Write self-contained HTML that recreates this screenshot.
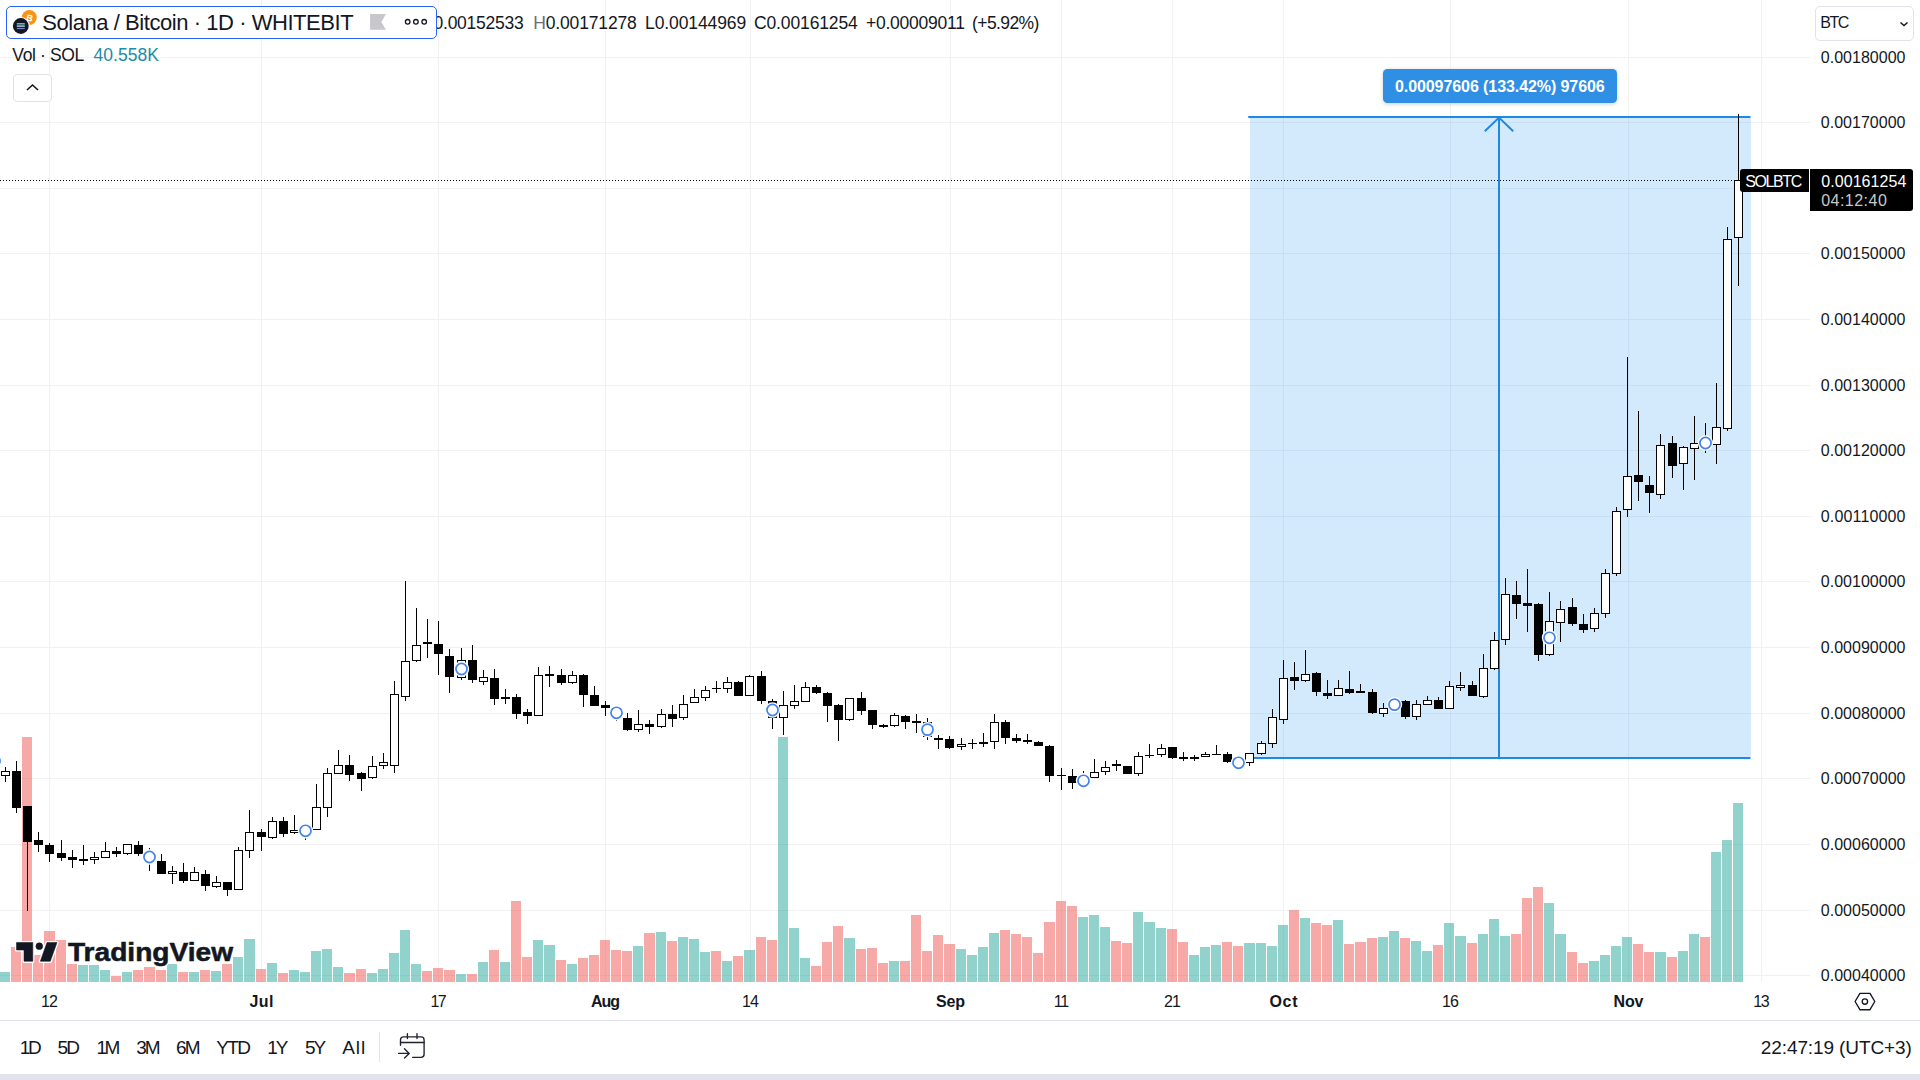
<!DOCTYPE html>
<html><head><meta charset="utf-8"><title>SOLBTC</title>
<style>
html,body{margin:0;padding:0;background:#fff;}
body{width:1920px;height:1080px;overflow:hidden;position:relative;font-family:"Liberation Sans",sans-serif;color:#131722;}
.abs{position:absolute;white-space:nowrap;}
#chart{position:absolute;left:0;top:0;width:1920px;height:982px;}
.pl{position:absolute;left:1822px;font-size:16px;line-height:16px;letter-spacing:-0.12px;color:#131722;}
.tl{position:absolute;top:992px;font-size:16px;line-height:18px;transform:translateX(-50%);color:#131722;}
.tl.b{font-weight:bold;}
.rb{position:absolute;top:1036px;font-size:18.5px;line-height:22px;color:#131722;}
</style></head><body>
<svg id="chart" width="1920" height="982" viewBox="0 0 1920 982" shape-rendering="crispEdges">
<g>
<rect x="49" y="0" width="1" height="982" fill="#f1f1f3"/>
<rect x="261" y="0" width="1" height="982" fill="#f1f1f3"/>
<rect x="438" y="0" width="1" height="982" fill="#f1f1f3"/>
<rect x="605" y="0" width="1" height="982" fill="#f1f1f3"/>
<rect x="750" y="0" width="1" height="982" fill="#f1f1f3"/>
<rect x="950" y="0" width="1" height="982" fill="#f1f1f3"/>
<rect x="1061" y="0" width="1" height="982" fill="#f1f1f3"/>
<rect x="1172" y="0" width="1" height="982" fill="#f1f1f3"/>
<rect x="1283" y="0" width="1" height="982" fill="#f1f1f3"/>
<rect x="1450" y="0" width="1" height="982" fill="#f1f1f3"/>
<rect x="1628" y="0" width="1" height="982" fill="#f1f1f3"/>
<rect x="1761" y="0" width="1" height="982" fill="#f1f1f3"/>
<rect x="0" y="57" width="1810" height="1" fill="#f1f1f3"/>
<rect x="0" y="122" width="1810" height="1" fill="#f1f1f3"/>
<rect x="0" y="188" width="1810" height="1" fill="#f1f1f3"/>
<rect x="0" y="253" width="1810" height="1" fill="#f1f1f3"/>
<rect x="0" y="319" width="1810" height="1" fill="#f1f1f3"/>
<rect x="0" y="385" width="1810" height="1" fill="#f1f1f3"/>
<rect x="0" y="450" width="1810" height="1" fill="#f1f1f3"/>
<rect x="0" y="516" width="1810" height="1" fill="#f1f1f3"/>
<rect x="0" y="581" width="1810" height="1" fill="#f1f1f3"/>
<rect x="0" y="647" width="1810" height="1" fill="#f1f1f3"/>
<rect x="0" y="713" width="1810" height="1" fill="#f1f1f3"/>
<rect x="0" y="778" width="1810" height="1" fill="#f1f1f3"/>
<rect x="0" y="844" width="1810" height="1" fill="#f1f1f3"/>
<rect x="0" y="910" width="1810" height="1" fill="#f1f1f3"/>
<rect x="0" y="975" width="1810" height="1" fill="#f1f1f3"/>
<rect x="0" y="972" width="10" height="10" fill="#26a69a" fill-opacity="0.5"/>
<rect x="11" y="947" width="10" height="35" fill="#ef5350" fill-opacity="0.5"/>
<rect x="22" y="737" width="10" height="245" fill="#ef5350" fill-opacity="0.5"/>
<rect x="33" y="955" width="10" height="27" fill="#ef5350" fill-opacity="0.5"/>
<rect x="44" y="931" width="11" height="51" fill="#ef5350" fill-opacity="0.5"/>
<rect x="56" y="940" width="10" height="42" fill="#ef5350" fill-opacity="0.5"/>
<rect x="67" y="964" width="10" height="18" fill="#ef5350" fill-opacity="0.5"/>
<rect x="78" y="965" width="10" height="17" fill="#26a69a" fill-opacity="0.5"/>
<rect x="89" y="965" width="10" height="17" fill="#26a69a" fill-opacity="0.5"/>
<rect x="100" y="970" width="10" height="12" fill="#26a69a" fill-opacity="0.5"/>
<rect x="111" y="976" width="10" height="6" fill="#ef5350" fill-opacity="0.5"/>
<rect x="122" y="972" width="10" height="10" fill="#26a69a" fill-opacity="0.5"/>
<rect x="133" y="970" width="10" height="12" fill="#ef5350" fill-opacity="0.5"/>
<rect x="144" y="967" width="11" height="15" fill="#ef5350" fill-opacity="0.5"/>
<rect x="156" y="970" width="10" height="12" fill="#ef5350" fill-opacity="0.5"/>
<rect x="167" y="964" width="10" height="18" fill="#26a69a" fill-opacity="0.5"/>
<rect x="178" y="972" width="10" height="10" fill="#ef5350" fill-opacity="0.5"/>
<rect x="189" y="972" width="10" height="10" fill="#26a69a" fill-opacity="0.5"/>
<rect x="200" y="970" width="10" height="12" fill="#ef5350" fill-opacity="0.5"/>
<rect x="211" y="971" width="10" height="11" fill="#26a69a" fill-opacity="0.5"/>
<rect x="222" y="964" width="10" height="18" fill="#ef5350" fill-opacity="0.5"/>
<rect x="233" y="957" width="10" height="25" fill="#26a69a" fill-opacity="0.5"/>
<rect x="244" y="939" width="11" height="43" fill="#26a69a" fill-opacity="0.5"/>
<rect x="256" y="969" width="10" height="13" fill="#ef5350" fill-opacity="0.5"/>
<rect x="267" y="963" width="10" height="19" fill="#26a69a" fill-opacity="0.5"/>
<rect x="278" y="973" width="10" height="9" fill="#ef5350" fill-opacity="0.5"/>
<rect x="289" y="970" width="10" height="12" fill="#26a69a" fill-opacity="0.5"/>
<rect x="300" y="972" width="10" height="10" fill="#26a69a" fill-opacity="0.5"/>
<rect x="311" y="951" width="10" height="31" fill="#26a69a" fill-opacity="0.5"/>
<rect x="322" y="949" width="10" height="33" fill="#26a69a" fill-opacity="0.5"/>
<rect x="333" y="967" width="10" height="15" fill="#26a69a" fill-opacity="0.5"/>
<rect x="344" y="973" width="11" height="9" fill="#ef5350" fill-opacity="0.5"/>
<rect x="356" y="969" width="10" height="13" fill="#ef5350" fill-opacity="0.5"/>
<rect x="367" y="973" width="10" height="9" fill="#26a69a" fill-opacity="0.5"/>
<rect x="378" y="969" width="10" height="13" fill="#26a69a" fill-opacity="0.5"/>
<rect x="389" y="953" width="10" height="29" fill="#26a69a" fill-opacity="0.5"/>
<rect x="400" y="930" width="10" height="52" fill="#26a69a" fill-opacity="0.5"/>
<rect x="411" y="964" width="10" height="18" fill="#26a69a" fill-opacity="0.5"/>
<rect x="422" y="971" width="10" height="11" fill="#ef5350" fill-opacity="0.5"/>
<rect x="433" y="968" width="10" height="14" fill="#ef5350" fill-opacity="0.5"/>
<rect x="444" y="970" width="11" height="12" fill="#ef5350" fill-opacity="0.5"/>
<rect x="456" y="974" width="10" height="8" fill="#26a69a" fill-opacity="0.5"/>
<rect x="467" y="974" width="10" height="8" fill="#ef5350" fill-opacity="0.5"/>
<rect x="478" y="962" width="10" height="20" fill="#26a69a" fill-opacity="0.5"/>
<rect x="489" y="950" width="10" height="32" fill="#ef5350" fill-opacity="0.5"/>
<rect x="500" y="962" width="10" height="20" fill="#26a69a" fill-opacity="0.5"/>
<rect x="511" y="901" width="10" height="81" fill="#ef5350" fill-opacity="0.5"/>
<rect x="522" y="957" width="10" height="25" fill="#ef5350" fill-opacity="0.5"/>
<rect x="533" y="940" width="10" height="42" fill="#26a69a" fill-opacity="0.5"/>
<rect x="544" y="945" width="11" height="37" fill="#26a69a" fill-opacity="0.5"/>
<rect x="556" y="960" width="10" height="22" fill="#ef5350" fill-opacity="0.5"/>
<rect x="567" y="964" width="10" height="18" fill="#26a69a" fill-opacity="0.5"/>
<rect x="578" y="958" width="10" height="24" fill="#ef5350" fill-opacity="0.5"/>
<rect x="589" y="955" width="10" height="27" fill="#ef5350" fill-opacity="0.5"/>
<rect x="600" y="940" width="10" height="42" fill="#ef5350" fill-opacity="0.5"/>
<rect x="611" y="950" width="10" height="32" fill="#ef5350" fill-opacity="0.5"/>
<rect x="622" y="951" width="10" height="31" fill="#ef5350" fill-opacity="0.5"/>
<rect x="633" y="946" width="10" height="36" fill="#26a69a" fill-opacity="0.5"/>
<rect x="644" y="933" width="11" height="49" fill="#ef5350" fill-opacity="0.5"/>
<rect x="656" y="932" width="10" height="50" fill="#26a69a" fill-opacity="0.5"/>
<rect x="667" y="941" width="10" height="41" fill="#ef5350" fill-opacity="0.5"/>
<rect x="678" y="937" width="10" height="45" fill="#26a69a" fill-opacity="0.5"/>
<rect x="689" y="939" width="10" height="43" fill="#26a69a" fill-opacity="0.5"/>
<rect x="700" y="952" width="10" height="30" fill="#26a69a" fill-opacity="0.5"/>
<rect x="711" y="951" width="10" height="31" fill="#ef5350" fill-opacity="0.5"/>
<rect x="722" y="961" width="10" height="21" fill="#26a69a" fill-opacity="0.5"/>
<rect x="733" y="956" width="10" height="26" fill="#ef5350" fill-opacity="0.5"/>
<rect x="744" y="950" width="11" height="32" fill="#26a69a" fill-opacity="0.5"/>
<rect x="756" y="937" width="10" height="45" fill="#ef5350" fill-opacity="0.5"/>
<rect x="767" y="940" width="10" height="42" fill="#ef5350" fill-opacity="0.5"/>
<rect x="778" y="737" width="10" height="245" fill="#26a69a" fill-opacity="0.5"/>
<rect x="789" y="928" width="10" height="54" fill="#26a69a" fill-opacity="0.5"/>
<rect x="800" y="958" width="10" height="24" fill="#26a69a" fill-opacity="0.5"/>
<rect x="811" y="966" width="10" height="16" fill="#ef5350" fill-opacity="0.5"/>
<rect x="822" y="942" width="10" height="40" fill="#ef5350" fill-opacity="0.5"/>
<rect x="833" y="926" width="10" height="56" fill="#ef5350" fill-opacity="0.5"/>
<rect x="844" y="938" width="11" height="44" fill="#26a69a" fill-opacity="0.5"/>
<rect x="856" y="949" width="10" height="33" fill="#ef5350" fill-opacity="0.5"/>
<rect x="867" y="948" width="10" height="34" fill="#ef5350" fill-opacity="0.5"/>
<rect x="878" y="963" width="10" height="19" fill="#ef5350" fill-opacity="0.5"/>
<rect x="889" y="961" width="10" height="21" fill="#26a69a" fill-opacity="0.5"/>
<rect x="900" y="961" width="10" height="21" fill="#ef5350" fill-opacity="0.5"/>
<rect x="911" y="915" width="10" height="67" fill="#ef5350" fill-opacity="0.5"/>
<rect x="922" y="951" width="10" height="31" fill="#ef5350" fill-opacity="0.5"/>
<rect x="933" y="935" width="10" height="47" fill="#ef5350" fill-opacity="0.5"/>
<rect x="944" y="944" width="11" height="38" fill="#ef5350" fill-opacity="0.5"/>
<rect x="956" y="949" width="10" height="33" fill="#26a69a" fill-opacity="0.5"/>
<rect x="967" y="955" width="10" height="27" fill="#26a69a" fill-opacity="0.5"/>
<rect x="978" y="947" width="10" height="35" fill="#26a69a" fill-opacity="0.5"/>
<rect x="989" y="933" width="10" height="49" fill="#26a69a" fill-opacity="0.5"/>
<rect x="1000" y="930" width="10" height="52" fill="#ef5350" fill-opacity="0.5"/>
<rect x="1011" y="934" width="10" height="48" fill="#ef5350" fill-opacity="0.5"/>
<rect x="1022" y="937" width="10" height="45" fill="#ef5350" fill-opacity="0.5"/>
<rect x="1033" y="953" width="10" height="29" fill="#ef5350" fill-opacity="0.5"/>
<rect x="1044" y="922" width="11" height="60" fill="#ef5350" fill-opacity="0.5"/>
<rect x="1056" y="901" width="10" height="81" fill="#ef5350" fill-opacity="0.5"/>
<rect x="1067" y="906" width="10" height="76" fill="#ef5350" fill-opacity="0.5"/>
<rect x="1078" y="917" width="10" height="65" fill="#26a69a" fill-opacity="0.5"/>
<rect x="1089" y="915" width="10" height="67" fill="#26a69a" fill-opacity="0.5"/>
<rect x="1100" y="927" width="10" height="55" fill="#26a69a" fill-opacity="0.5"/>
<rect x="1111" y="941" width="10" height="41" fill="#ef5350" fill-opacity="0.5"/>
<rect x="1122" y="943" width="10" height="39" fill="#ef5350" fill-opacity="0.5"/>
<rect x="1133" y="912" width="10" height="70" fill="#26a69a" fill-opacity="0.5"/>
<rect x="1144" y="922" width="11" height="60" fill="#26a69a" fill-opacity="0.5"/>
<rect x="1156" y="928" width="10" height="54" fill="#26a69a" fill-opacity="0.5"/>
<rect x="1167" y="929" width="10" height="53" fill="#ef5350" fill-opacity="0.5"/>
<rect x="1178" y="942" width="10" height="40" fill="#ef5350" fill-opacity="0.5"/>
<rect x="1189" y="955" width="10" height="27" fill="#26a69a" fill-opacity="0.5"/>
<rect x="1200" y="947" width="10" height="35" fill="#26a69a" fill-opacity="0.5"/>
<rect x="1211" y="945" width="10" height="37" fill="#26a69a" fill-opacity="0.5"/>
<rect x="1222" y="942" width="10" height="40" fill="#ef5350" fill-opacity="0.5"/>
<rect x="1233" y="946" width="10" height="36" fill="#ef5350" fill-opacity="0.5"/>
<rect x="1244" y="943" width="11" height="39" fill="#26a69a" fill-opacity="0.5"/>
<rect x="1256" y="943" width="10" height="39" fill="#26a69a" fill-opacity="0.5"/>
<rect x="1267" y="946" width="10" height="36" fill="#26a69a" fill-opacity="0.5"/>
<rect x="1278" y="925" width="10" height="57" fill="#26a69a" fill-opacity="0.5"/>
<rect x="1289" y="910" width="10" height="72" fill="#ef5350" fill-opacity="0.5"/>
<rect x="1300" y="918" width="10" height="64" fill="#26a69a" fill-opacity="0.5"/>
<rect x="1311" y="923" width="10" height="59" fill="#ef5350" fill-opacity="0.5"/>
<rect x="1322" y="925" width="10" height="57" fill="#ef5350" fill-opacity="0.5"/>
<rect x="1333" y="920" width="10" height="62" fill="#26a69a" fill-opacity="0.5"/>
<rect x="1344" y="944" width="10" height="38" fill="#ef5350" fill-opacity="0.5"/>
<rect x="1355" y="942" width="11" height="40" fill="#ef5350" fill-opacity="0.5"/>
<rect x="1367" y="938" width="10" height="44" fill="#ef5350" fill-opacity="0.5"/>
<rect x="1378" y="937" width="10" height="45" fill="#26a69a" fill-opacity="0.5"/>
<rect x="1389" y="931" width="10" height="51" fill="#26a69a" fill-opacity="0.5"/>
<rect x="1400" y="938" width="10" height="44" fill="#ef5350" fill-opacity="0.5"/>
<rect x="1411" y="941" width="10" height="41" fill="#26a69a" fill-opacity="0.5"/>
<rect x="1422" y="951" width="10" height="31" fill="#26a69a" fill-opacity="0.5"/>
<rect x="1433" y="945" width="10" height="37" fill="#ef5350" fill-opacity="0.5"/>
<rect x="1444" y="923" width="10" height="59" fill="#26a69a" fill-opacity="0.5"/>
<rect x="1455" y="936" width="11" height="46" fill="#26a69a" fill-opacity="0.5"/>
<rect x="1467" y="943" width="10" height="39" fill="#ef5350" fill-opacity="0.5"/>
<rect x="1478" y="934" width="10" height="48" fill="#26a69a" fill-opacity="0.5"/>
<rect x="1489" y="919" width="10" height="63" fill="#26a69a" fill-opacity="0.5"/>
<rect x="1500" y="936" width="10" height="46" fill="#26a69a" fill-opacity="0.5"/>
<rect x="1511" y="934" width="10" height="48" fill="#ef5350" fill-opacity="0.5"/>
<rect x="1522" y="898" width="10" height="84" fill="#ef5350" fill-opacity="0.5"/>
<rect x="1533" y="887" width="10" height="95" fill="#ef5350" fill-opacity="0.5"/>
<rect x="1544" y="903" width="10" height="79" fill="#26a69a" fill-opacity="0.5"/>
<rect x="1555" y="934" width="11" height="48" fill="#26a69a" fill-opacity="0.5"/>
<rect x="1567" y="952" width="10" height="30" fill="#ef5350" fill-opacity="0.5"/>
<rect x="1578" y="963" width="10" height="19" fill="#ef5350" fill-opacity="0.5"/>
<rect x="1589" y="961" width="10" height="21" fill="#26a69a" fill-opacity="0.5"/>
<rect x="1600" y="955" width="10" height="27" fill="#26a69a" fill-opacity="0.5"/>
<rect x="1611" y="946" width="10" height="36" fill="#26a69a" fill-opacity="0.5"/>
<rect x="1622" y="937" width="10" height="45" fill="#26a69a" fill-opacity="0.5"/>
<rect x="1633" y="944" width="10" height="38" fill="#ef5350" fill-opacity="0.5"/>
<rect x="1644" y="952" width="10" height="30" fill="#ef5350" fill-opacity="0.5"/>
<rect x="1655" y="952" width="11" height="30" fill="#26a69a" fill-opacity="0.5"/>
<rect x="1667" y="957" width="10" height="25" fill="#ef5350" fill-opacity="0.5"/>
<rect x="1678" y="951" width="10" height="31" fill="#26a69a" fill-opacity="0.5"/>
<rect x="1689" y="934" width="10" height="48" fill="#26a69a" fill-opacity="0.5"/>
<rect x="1700" y="937" width="10" height="45" fill="#ef5350" fill-opacity="0.5"/>
<rect x="1711" y="852" width="10" height="130" fill="#26a69a" fill-opacity="0.5"/>
<rect x="1722" y="840" width="10" height="142" fill="#26a69a" fill-opacity="0.5"/>
<rect x="1733" y="803" width="10" height="179" fill="#26a69a" fill-opacity="0.5"/>
<rect x="1250" y="117" width="501" height="641" fill="#2196f3" fill-opacity="0.2"/>
<g shape-rendering="geometricPrecision" stroke="#1e88e5" stroke-width="2" stroke-linecap="round" fill="none"><path d="M1249 117 H1749.6 M1249 758 H1749.6"/><path d="M1499 117.5 V757" stroke-linecap="butt"/><path d="M1484.8 131.2 L1499 117.6 L1513.2 131.2" stroke-linecap="butt"/></g>
<line x1="0" y1="180.5" x2="1741" y2="180.5" stroke="#000" stroke-width="1" stroke-dasharray="1 2"/>
<rect x="5" y="767" width="1" height="4" fill="#000"/>
<rect x="5" y="776" width="1" height="6" fill="#000"/>
<rect x="1.5" y="771.5" width="8" height="4" fill="#fff" stroke="#000" stroke-width="1"/>
<rect x="16" y="761" width="1" height="10" fill="#000"/>
<rect x="16" y="808" width="1" height="5" fill="#000"/>
<rect x="12" y="771" width="9" height="37" fill="#000"/>
<rect x="27" y="842" width="1" height="69" fill="#000"/>
<rect x="23" y="806" width="9" height="36" fill="#000"/>
<rect x="38" y="832" width="1" height="8" fill="#000"/>
<rect x="38" y="845" width="1" height="7" fill="#000"/>
<rect x="34" y="840" width="9" height="5" fill="#000"/>
<rect x="49" y="843" width="1" height="2" fill="#000"/>
<rect x="49" y="854" width="1" height="8" fill="#000"/>
<rect x="45" y="845" width="9" height="9" fill="#000"/>
<rect x="61" y="840" width="1" height="13" fill="#000"/>
<rect x="61" y="858" width="1" height="3" fill="#000"/>
<rect x="57" y="853" width="9" height="5" fill="#000"/>
<rect x="72" y="850" width="1" height="7" fill="#000"/>
<rect x="72" y="860" width="1" height="8" fill="#000"/>
<rect x="68" y="857" width="9" height="3" fill="#000"/>
<rect x="83" y="845" width="1" height="14" fill="#000"/>
<rect x="83" y="861" width="1" height="4" fill="#000"/>
<rect x="79" y="859" width="9" height="2" fill="#000"/>
<rect x="94" y="852" width="1" height="5" fill="#000"/>
<rect x="94" y="860" width="1" height="4" fill="#000"/>
<rect x="90.5" y="857.5" width="8" height="2" fill="#fff" stroke="#000" stroke-width="1"/>
<rect x="105" y="842" width="1" height="9" fill="#000"/>
<rect x="101.5" y="851.5" width="8" height="6" fill="#fff" stroke="#000" stroke-width="1"/>
<rect x="116" y="847" width="1" height="4" fill="#000"/>
<rect x="116" y="854" width="1" height="3" fill="#000"/>
<rect x="112" y="851" width="9" height="3" fill="#000"/>
<rect x="127" y="854" width="1" height="1" fill="#000"/>
<rect x="123.5" y="844.5" width="8" height="9" fill="#fff" stroke="#000" stroke-width="1"/>
<rect x="138" y="841" width="1" height="4" fill="#000"/>
<rect x="138" y="854" width="1" height="2" fill="#000"/>
<rect x="134" y="845" width="9" height="9" fill="#000"/>
<rect x="149" y="848" width="1" height="23" fill="#000"/>
<rect x="161" y="854" width="1" height="7" fill="#000"/>
<rect x="157" y="861" width="9" height="13" fill="#000"/>
<rect x="172" y="866" width="1" height="5" fill="#000"/>
<rect x="172" y="874" width="1" height="10" fill="#000"/>
<rect x="168.5" y="871.5" width="8" height="2" fill="#fff" stroke="#000" stroke-width="1"/>
<rect x="183" y="863" width="1" height="9" fill="#000"/>
<rect x="183" y="881" width="1" height="2" fill="#000"/>
<rect x="179" y="872" width="9" height="9" fill="#000"/>
<rect x="194" y="867" width="1" height="5" fill="#000"/>
<rect x="190.5" y="872.5" width="8" height="8" fill="#fff" stroke="#000" stroke-width="1"/>
<rect x="205" y="870" width="1" height="4" fill="#000"/>
<rect x="205" y="886" width="1" height="5" fill="#000"/>
<rect x="201" y="874" width="9" height="12" fill="#000"/>
<rect x="216" y="876" width="1" height="6" fill="#000"/>
<rect x="216" y="887" width="1" height="1" fill="#000"/>
<rect x="212.5" y="882.5" width="8" height="4" fill="#fff" stroke="#000" stroke-width="1"/>
<rect x="227" y="890" width="1" height="6" fill="#000"/>
<rect x="223" y="882" width="9" height="8" fill="#000"/>
<rect x="238" y="847" width="1" height="3" fill="#000"/>
<rect x="234.5" y="850.5" width="8" height="39" fill="#fff" stroke="#000" stroke-width="1"/>
<rect x="249" y="810" width="1" height="22" fill="#000"/>
<rect x="249" y="851" width="1" height="7" fill="#000"/>
<rect x="245.5" y="832.5" width="8" height="18" fill="#fff" stroke="#000" stroke-width="1"/>
<rect x="261" y="829" width="1" height="3" fill="#000"/>
<rect x="261" y="837" width="1" height="14" fill="#000"/>
<rect x="257" y="832" width="9" height="5" fill="#000"/>
<rect x="272" y="817" width="1" height="4" fill="#000"/>
<rect x="272" y="838" width="1" height="1" fill="#000"/>
<rect x="268.5" y="821.5" width="8" height="16" fill="#fff" stroke="#000" stroke-width="1"/>
<rect x="283" y="817" width="1" height="4" fill="#000"/>
<rect x="283" y="834" width="1" height="3" fill="#000"/>
<rect x="279" y="821" width="9" height="13" fill="#000"/>
<rect x="294" y="815" width="1" height="15" fill="#000"/>
<rect x="294" y="833" width="1" height="1" fill="#000"/>
<rect x="290.5" y="830.5" width="8" height="2" fill="#fff" stroke="#000" stroke-width="1"/>
<rect x="305" y="830" width="1" height="10" fill="#000"/>
<rect x="316" y="784" width="1" height="23" fill="#000"/>
<rect x="312.5" y="807.5" width="8" height="22" fill="#fff" stroke="#000" stroke-width="1"/>
<rect x="327" y="768" width="1" height="5" fill="#000"/>
<rect x="327" y="808" width="1" height="9" fill="#000"/>
<rect x="323.5" y="773.5" width="8" height="34" fill="#fff" stroke="#000" stroke-width="1"/>
<rect x="338" y="750" width="1" height="15" fill="#000"/>
<rect x="334.5" y="765.5" width="8" height="8" fill="#fff" stroke="#000" stroke-width="1"/>
<rect x="349" y="755" width="1" height="10" fill="#000"/>
<rect x="349" y="775" width="1" height="6" fill="#000"/>
<rect x="345" y="765" width="9" height="10" fill="#000"/>
<rect x="361" y="772" width="1" height="1" fill="#000"/>
<rect x="361" y="779" width="1" height="12" fill="#000"/>
<rect x="357" y="773" width="9" height="6" fill="#000"/>
<rect x="372" y="756" width="1" height="10" fill="#000"/>
<rect x="372" y="778" width="1" height="1" fill="#000"/>
<rect x="368.5" y="766.5" width="8" height="11" fill="#fff" stroke="#000" stroke-width="1"/>
<rect x="383" y="753" width="1" height="9" fill="#000"/>
<rect x="383" y="766" width="1" height="3" fill="#000"/>
<rect x="379.5" y="762.5" width="8" height="3" fill="#fff" stroke="#000" stroke-width="1"/>
<rect x="394" y="681" width="1" height="13" fill="#000"/>
<rect x="394" y="766" width="1" height="7" fill="#000"/>
<rect x="390.5" y="694.5" width="8" height="71" fill="#fff" stroke="#000" stroke-width="1"/>
<rect x="405" y="581" width="1" height="80" fill="#000"/>
<rect x="405" y="697" width="1" height="4" fill="#000"/>
<rect x="401.5" y="661.5" width="8" height="35" fill="#fff" stroke="#000" stroke-width="1"/>
<rect x="416" y="608" width="1" height="37" fill="#000"/>
<rect x="416" y="661" width="1" height="1" fill="#000"/>
<rect x="412.5" y="645.5" width="8" height="15" fill="#fff" stroke="#000" stroke-width="1"/>
<rect x="427" y="619" width="1" height="23" fill="#000"/>
<rect x="427" y="644" width="1" height="14" fill="#000"/>
<rect x="423" y="642" width="9" height="2" fill="#000"/>
<rect x="438" y="621" width="1" height="23" fill="#000"/>
<rect x="438" y="654" width="1" height="21" fill="#000"/>
<rect x="434" y="644" width="9" height="10" fill="#000"/>
<rect x="449" y="649" width="1" height="7" fill="#000"/>
<rect x="449" y="677" width="1" height="16" fill="#000"/>
<rect x="445" y="656" width="9" height="21" fill="#000"/>
<rect x="461" y="648" width="1" height="12" fill="#000"/>
<rect x="461" y="678" width="1" height="2" fill="#000"/>
<rect x="457.5" y="660.5" width="8" height="17" fill="#fff" stroke="#000" stroke-width="1"/>
<rect x="472" y="645" width="1" height="15" fill="#000"/>
<rect x="472" y="680" width="1" height="3" fill="#000"/>
<rect x="468" y="660" width="9" height="20" fill="#000"/>
<rect x="483" y="670" width="1" height="7" fill="#000"/>
<rect x="483" y="682" width="1" height="3" fill="#000"/>
<rect x="479.5" y="677.5" width="8" height="4" fill="#fff" stroke="#000" stroke-width="1"/>
<rect x="494" y="669" width="1" height="9" fill="#000"/>
<rect x="494" y="699" width="1" height="6" fill="#000"/>
<rect x="490" y="678" width="9" height="21" fill="#000"/>
<rect x="505" y="689" width="1" height="8" fill="#000"/>
<rect x="505" y="699" width="1" height="5" fill="#000"/>
<rect x="501" y="697" width="9" height="2" fill="#000"/>
<rect x="516" y="694" width="1" height="3" fill="#000"/>
<rect x="516" y="714" width="1" height="5" fill="#000"/>
<rect x="512" y="697" width="9" height="17" fill="#000"/>
<rect x="527" y="709" width="1" height="3" fill="#000"/>
<rect x="527" y="716" width="1" height="8" fill="#000"/>
<rect x="523" y="712" width="9" height="4" fill="#000"/>
<rect x="538" y="667" width="1" height="8" fill="#000"/>
<rect x="534.5" y="675.5" width="8" height="40" fill="#fff" stroke="#000" stroke-width="1"/>
<rect x="549" y="666" width="1" height="8" fill="#000"/>
<rect x="549" y="676" width="1" height="11" fill="#000"/>
<rect x="545" y="674" width="9" height="2" fill="#000"/>
<rect x="561" y="669" width="1" height="6" fill="#000"/>
<rect x="561" y="683" width="1" height="2" fill="#000"/>
<rect x="557" y="675" width="9" height="8" fill="#000"/>
<rect x="572" y="671" width="1" height="4" fill="#000"/>
<rect x="572" y="683" width="1" height="1" fill="#000"/>
<rect x="568.5" y="675.5" width="8" height="7" fill="#fff" stroke="#000" stroke-width="1"/>
<rect x="583" y="674" width="1" height="1" fill="#000"/>
<rect x="583" y="695" width="1" height="12" fill="#000"/>
<rect x="579" y="675" width="9" height="20" fill="#000"/>
<rect x="594" y="686" width="1" height="9" fill="#000"/>
<rect x="590" y="695" width="9" height="11" fill="#000"/>
<rect x="605" y="701" width="1" height="4" fill="#000"/>
<rect x="605" y="708" width="1" height="8" fill="#000"/>
<rect x="601" y="705" width="9" height="3" fill="#000"/>
<rect x="616" y="712" width="1" height="9" fill="#000"/>
<rect x="627" y="713" width="1" height="5" fill="#000"/>
<rect x="627" y="730" width="1" height="1" fill="#000"/>
<rect x="623" y="718" width="9" height="12" fill="#000"/>
<rect x="638" y="710" width="1" height="14" fill="#000"/>
<rect x="638" y="730" width="1" height="2" fill="#000"/>
<rect x="634.5" y="724.5" width="8" height="5" fill="#fff" stroke="#000" stroke-width="1"/>
<rect x="649" y="720" width="1" height="4" fill="#000"/>
<rect x="649" y="727" width="1" height="7" fill="#000"/>
<rect x="645" y="724" width="9" height="3" fill="#000"/>
<rect x="661" y="709" width="1" height="5" fill="#000"/>
<rect x="661" y="727" width="1" height="1" fill="#000"/>
<rect x="657.5" y="714.5" width="8" height="12" fill="#fff" stroke="#000" stroke-width="1"/>
<rect x="672" y="705" width="1" height="9" fill="#000"/>
<rect x="672" y="719" width="1" height="8" fill="#000"/>
<rect x="668" y="714" width="9" height="5" fill="#000"/>
<rect x="683" y="695" width="1" height="9" fill="#000"/>
<rect x="683" y="718" width="1" height="2" fill="#000"/>
<rect x="679.5" y="704.5" width="8" height="13" fill="#fff" stroke="#000" stroke-width="1"/>
<rect x="694" y="689" width="1" height="8" fill="#000"/>
<rect x="690.5" y="697.5" width="8" height="5" fill="#fff" stroke="#000" stroke-width="1"/>
<rect x="705" y="686" width="1" height="4" fill="#000"/>
<rect x="705" y="698" width="1" height="3" fill="#000"/>
<rect x="701.5" y="690.5" width="8" height="7" fill="#fff" stroke="#000" stroke-width="1"/>
<rect x="716" y="681" width="1" height="7" fill="#000"/>
<rect x="716" y="689" width="1" height="4" fill="#000"/>
<rect x="712" y="688" width="9" height="1" fill="#000"/>
<rect x="727" y="677" width="1" height="5" fill="#000"/>
<rect x="727" y="689" width="1" height="4" fill="#000"/>
<rect x="723.5" y="682.5" width="8" height="6" fill="#fff" stroke="#000" stroke-width="1"/>
<rect x="738" y="681" width="1" height="1" fill="#000"/>
<rect x="734" y="682" width="9" height="14" fill="#000"/>
<rect x="749" y="675" width="1" height="1" fill="#000"/>
<rect x="745.5" y="676.5" width="8" height="19" fill="#fff" stroke="#000" stroke-width="1"/>
<rect x="761" y="671" width="1" height="5" fill="#000"/>
<rect x="761" y="701" width="1" height="3" fill="#000"/>
<rect x="757" y="676" width="9" height="25" fill="#000"/>
<rect x="772" y="699" width="1" height="2" fill="#000"/>
<rect x="772" y="718" width="1" height="11" fill="#000"/>
<rect x="768" y="701" width="9" height="17" fill="#000"/>
<rect x="783" y="691" width="1" height="14" fill="#000"/>
<rect x="783" y="718" width="1" height="17" fill="#000"/>
<rect x="779.5" y="705.5" width="8" height="12" fill="#fff" stroke="#000" stroke-width="1"/>
<rect x="794" y="685" width="1" height="16" fill="#000"/>
<rect x="794" y="706" width="1" height="3" fill="#000"/>
<rect x="790.5" y="701.5" width="8" height="4" fill="#fff" stroke="#000" stroke-width="1"/>
<rect x="805" y="682" width="1" height="5" fill="#000"/>
<rect x="801.5" y="687.5" width="8" height="14" fill="#fff" stroke="#000" stroke-width="1"/>
<rect x="816" y="685" width="1" height="2" fill="#000"/>
<rect x="816" y="693" width="1" height="1" fill="#000"/>
<rect x="812" y="687" width="9" height="6" fill="#000"/>
<rect x="827" y="692" width="1" height="1" fill="#000"/>
<rect x="827" y="706" width="1" height="16" fill="#000"/>
<rect x="823" y="693" width="9" height="13" fill="#000"/>
<rect x="838" y="704" width="1" height="1" fill="#000"/>
<rect x="838" y="720" width="1" height="21" fill="#000"/>
<rect x="834" y="705" width="9" height="15" fill="#000"/>
<rect x="849" y="720" width="1" height="1" fill="#000"/>
<rect x="845.5" y="698.5" width="8" height="21" fill="#fff" stroke="#000" stroke-width="1"/>
<rect x="861" y="692" width="1" height="6" fill="#000"/>
<rect x="861" y="711" width="1" height="4" fill="#000"/>
<rect x="857" y="698" width="9" height="13" fill="#000"/>
<rect x="872" y="725" width="1" height="4" fill="#000"/>
<rect x="868" y="710" width="9" height="15" fill="#000"/>
<rect x="883" y="724" width="1" height="1" fill="#000"/>
<rect x="883" y="727" width="1" height="1" fill="#000"/>
<rect x="879" y="725" width="9" height="2" fill="#000"/>
<rect x="894" y="713" width="1" height="2" fill="#000"/>
<rect x="894" y="726" width="1" height="1" fill="#000"/>
<rect x="890.5" y="715.5" width="8" height="10" fill="#fff" stroke="#000" stroke-width="1"/>
<rect x="905" y="715" width="1" height="1" fill="#000"/>
<rect x="905" y="722" width="1" height="7" fill="#000"/>
<rect x="901" y="716" width="9" height="6" fill="#000"/>
<rect x="916" y="714" width="1" height="7" fill="#000"/>
<rect x="916" y="723" width="1" height="10" fill="#000"/>
<rect x="912" y="721" width="9" height="2" fill="#000"/>
<rect x="927" y="718" width="1" height="4" fill="#000"/>
<rect x="927" y="737" width="1" height="3" fill="#000"/>
<rect x="923.5" y="722.5" width="8" height="14" fill="#fff" stroke="#000" stroke-width="1"/>
<rect x="938" y="735" width="1" height="3" fill="#000"/>
<rect x="938" y="740" width="1" height="9" fill="#000"/>
<rect x="934" y="738" width="9" height="2" fill="#000"/>
<rect x="949" y="736" width="1" height="3" fill="#000"/>
<rect x="949" y="748" width="1" height="1" fill="#000"/>
<rect x="945" y="739" width="9" height="9" fill="#000"/>
<rect x="961" y="738" width="1" height="6" fill="#000"/>
<rect x="961" y="747" width="1" height="3" fill="#000"/>
<rect x="957.5" y="744.5" width="8" height="2" fill="#fff" stroke="#000" stroke-width="1"/>
<rect x="972" y="739" width="1" height="4" fill="#000"/>
<rect x="972" y="744" width="1" height="5" fill="#000"/>
<rect x="968" y="743" width="9" height="1" fill="#000"/>
<rect x="983" y="733" width="1" height="9" fill="#000"/>
<rect x="983" y="744" width="1" height="3" fill="#000"/>
<rect x="979" y="742" width="9" height="2" fill="#000"/>
<rect x="994" y="714" width="1" height="8" fill="#000"/>
<rect x="994" y="742" width="1" height="7" fill="#000"/>
<rect x="990.5" y="722.5" width="8" height="19" fill="#fff" stroke="#000" stroke-width="1"/>
<rect x="1005" y="720" width="1" height="2" fill="#000"/>
<rect x="1005" y="738" width="1" height="6" fill="#000"/>
<rect x="1001" y="722" width="9" height="16" fill="#000"/>
<rect x="1016" y="734" width="1" height="4" fill="#000"/>
<rect x="1016" y="741" width="1" height="2" fill="#000"/>
<rect x="1012" y="738" width="9" height="3" fill="#000"/>
<rect x="1027" y="734" width="1" height="6" fill="#000"/>
<rect x="1027" y="742" width="1" height="2" fill="#000"/>
<rect x="1023" y="740" width="9" height="2" fill="#000"/>
<rect x="1038" y="741" width="1" height="1" fill="#000"/>
<rect x="1034" y="742" width="9" height="4" fill="#000"/>
<rect x="1049" y="745" width="1" height="1" fill="#000"/>
<rect x="1049" y="776" width="1" height="6" fill="#000"/>
<rect x="1045" y="746" width="9" height="30" fill="#000"/>
<rect x="1061" y="768" width="1" height="7" fill="#000"/>
<rect x="1061" y="776" width="1" height="14" fill="#000"/>
<rect x="1057" y="775" width="9" height="1" fill="#000"/>
<rect x="1072" y="769" width="1" height="7" fill="#000"/>
<rect x="1072" y="783" width="1" height="6" fill="#000"/>
<rect x="1068" y="776" width="9" height="7" fill="#000"/>
<rect x="1083" y="771" width="1" height="9" fill="#000"/>
<rect x="1094" y="759" width="1" height="13" fill="#000"/>
<rect x="1090.5" y="772.5" width="8" height="5" fill="#fff" stroke="#000" stroke-width="1"/>
<rect x="1105" y="761" width="1" height="6" fill="#000"/>
<rect x="1105" y="772" width="1" height="3" fill="#000"/>
<rect x="1101.5" y="767.5" width="8" height="4" fill="#fff" stroke="#000" stroke-width="1"/>
<rect x="1116" y="760" width="1" height="4" fill="#000"/>
<rect x="1116" y="766" width="1" height="5" fill="#000"/>
<rect x="1112" y="764" width="9" height="2" fill="#000"/>
<rect x="1123" y="766" width="9" height="8" fill="#000"/>
<rect x="1138" y="752" width="1" height="4" fill="#000"/>
<rect x="1138" y="774" width="1" height="2" fill="#000"/>
<rect x="1134.5" y="756.5" width="8" height="17" fill="#fff" stroke="#000" stroke-width="1"/>
<rect x="1149" y="744" width="1" height="11" fill="#000"/>
<rect x="1149" y="756" width="1" height="2" fill="#000"/>
<rect x="1145" y="755" width="9" height="1" fill="#000"/>
<rect x="1161" y="744" width="1" height="4" fill="#000"/>
<rect x="1161" y="755" width="1" height="2" fill="#000"/>
<rect x="1157.5" y="748.5" width="8" height="6" fill="#fff" stroke="#000" stroke-width="1"/>
<rect x="1172" y="758" width="1" height="1" fill="#000"/>
<rect x="1168" y="747" width="9" height="11" fill="#000"/>
<rect x="1183" y="752" width="1" height="5" fill="#000"/>
<rect x="1183" y="759" width="1" height="2" fill="#000"/>
<rect x="1179" y="757" width="9" height="2" fill="#000"/>
<rect x="1194" y="755" width="1" height="2" fill="#000"/>
<rect x="1194" y="759" width="1" height="2" fill="#000"/>
<rect x="1190" y="757" width="9" height="2" fill="#000"/>
<rect x="1205" y="752" width="1" height="2" fill="#000"/>
<rect x="1201.5" y="754.5" width="8" height="2" fill="#fff" stroke="#000" stroke-width="1"/>
<rect x="1216" y="745" width="1" height="9" fill="#000"/>
<rect x="1212" y="754" width="9" height="1" fill="#000"/>
<rect x="1227" y="752" width="1" height="2" fill="#000"/>
<rect x="1227" y="762" width="1" height="1" fill="#000"/>
<rect x="1223" y="754" width="9" height="8" fill="#000"/>
<rect x="1249" y="763" width="1" height="3" fill="#000"/>
<rect x="1245.5" y="753.5" width="8" height="9" fill="#fff" stroke="#000" stroke-width="1"/>
<rect x="1261" y="741" width="1" height="2" fill="#000"/>
<rect x="1261" y="754" width="1" height="1" fill="#000"/>
<rect x="1257.5" y="743.5" width="8" height="10" fill="#fff" stroke="#000" stroke-width="1"/>
<rect x="1272" y="709" width="1" height="8" fill="#000"/>
<rect x="1272" y="744" width="1" height="4" fill="#000"/>
<rect x="1268.5" y="717.5" width="8" height="26" fill="#fff" stroke="#000" stroke-width="1"/>
<rect x="1283" y="660" width="1" height="18" fill="#000"/>
<rect x="1283" y="720" width="1" height="4" fill="#000"/>
<rect x="1279.5" y="678.5" width="8" height="41" fill="#fff" stroke="#000" stroke-width="1"/>
<rect x="1294" y="662" width="1" height="15" fill="#000"/>
<rect x="1294" y="681" width="1" height="9" fill="#000"/>
<rect x="1290" y="677" width="9" height="4" fill="#000"/>
<rect x="1305" y="650" width="1" height="24" fill="#000"/>
<rect x="1305" y="681" width="1" height="1" fill="#000"/>
<rect x="1301.5" y="674.5" width="8" height="6" fill="#fff" stroke="#000" stroke-width="1"/>
<rect x="1316" y="672" width="1" height="1" fill="#000"/>
<rect x="1316" y="692" width="1" height="4" fill="#000"/>
<rect x="1312" y="673" width="9" height="19" fill="#000"/>
<rect x="1327" y="680" width="1" height="13" fill="#000"/>
<rect x="1327" y="696" width="1" height="3" fill="#000"/>
<rect x="1323" y="693" width="9" height="3" fill="#000"/>
<rect x="1338" y="680" width="1" height="8" fill="#000"/>
<rect x="1334.5" y="688.5" width="8" height="7" fill="#fff" stroke="#000" stroke-width="1"/>
<rect x="1349" y="671" width="1" height="18" fill="#000"/>
<rect x="1349" y="693" width="1" height="1" fill="#000"/>
<rect x="1345" y="689" width="9" height="4" fill="#000"/>
<rect x="1360" y="684" width="1" height="7" fill="#000"/>
<rect x="1356" y="691" width="9" height="2" fill="#000"/>
<rect x="1372" y="689" width="1" height="3" fill="#000"/>
<rect x="1372" y="713" width="1" height="1" fill="#000"/>
<rect x="1368" y="692" width="9" height="21" fill="#000"/>
<rect x="1383" y="703" width="1" height="5" fill="#000"/>
<rect x="1383" y="714" width="1" height="3" fill="#000"/>
<rect x="1379.5" y="708.5" width="8" height="5" fill="#fff" stroke="#000" stroke-width="1"/>
<rect x="1405" y="700" width="1" height="1" fill="#000"/>
<rect x="1405" y="717" width="1" height="2" fill="#000"/>
<rect x="1401" y="701" width="9" height="16" fill="#000"/>
<rect x="1416" y="700" width="1" height="4" fill="#000"/>
<rect x="1416" y="717" width="1" height="3" fill="#000"/>
<rect x="1412.5" y="704.5" width="8" height="12" fill="#fff" stroke="#000" stroke-width="1"/>
<rect x="1427" y="696" width="1" height="4" fill="#000"/>
<rect x="1423.5" y="700.5" width="8" height="4" fill="#fff" stroke="#000" stroke-width="1"/>
<rect x="1438" y="697" width="1" height="3" fill="#000"/>
<rect x="1434" y="700" width="9" height="9" fill="#000"/>
<rect x="1449" y="681" width="1" height="5" fill="#000"/>
<rect x="1445.5" y="686.5" width="8" height="22" fill="#fff" stroke="#000" stroke-width="1"/>
<rect x="1460" y="672" width="1" height="13" fill="#000"/>
<rect x="1460" y="688" width="1" height="3" fill="#000"/>
<rect x="1456.5" y="685.5" width="8" height="2" fill="#fff" stroke="#000" stroke-width="1"/>
<rect x="1472" y="681" width="1" height="4" fill="#000"/>
<rect x="1468" y="685" width="9" height="11" fill="#000"/>
<rect x="1483" y="654" width="1" height="14" fill="#000"/>
<rect x="1483" y="697" width="1" height="1" fill="#000"/>
<rect x="1479.5" y="668.5" width="8" height="28" fill="#fff" stroke="#000" stroke-width="1"/>
<rect x="1494" y="632" width="1" height="8" fill="#000"/>
<rect x="1494" y="669" width="1" height="1" fill="#000"/>
<rect x="1490.5" y="640.5" width="8" height="28" fill="#fff" stroke="#000" stroke-width="1"/>
<rect x="1505" y="578" width="1" height="16" fill="#000"/>
<rect x="1505" y="640" width="1" height="5" fill="#000"/>
<rect x="1501.5" y="594.5" width="8" height="45" fill="#fff" stroke="#000" stroke-width="1"/>
<rect x="1516" y="581" width="1" height="14" fill="#000"/>
<rect x="1516" y="604" width="1" height="15" fill="#000"/>
<rect x="1512" y="595" width="9" height="9" fill="#000"/>
<rect x="1527" y="569" width="1" height="34" fill="#000"/>
<rect x="1527" y="606" width="1" height="26" fill="#000"/>
<rect x="1523" y="603" width="9" height="3" fill="#000"/>
<rect x="1538" y="603" width="1" height="1" fill="#000"/>
<rect x="1538" y="655" width="1" height="6" fill="#000"/>
<rect x="1534" y="604" width="9" height="51" fill="#000"/>
<rect x="1549" y="592" width="1" height="29" fill="#000"/>
<rect x="1549" y="655" width="1" height="1" fill="#000"/>
<rect x="1545.5" y="621.5" width="8" height="33" fill="#fff" stroke="#000" stroke-width="1"/>
<rect x="1560" y="601" width="1" height="8" fill="#000"/>
<rect x="1560" y="623" width="1" height="19" fill="#000"/>
<rect x="1556.5" y="609.5" width="8" height="13" fill="#fff" stroke="#000" stroke-width="1"/>
<rect x="1572" y="598" width="1" height="9" fill="#000"/>
<rect x="1572" y="624" width="1" height="2" fill="#000"/>
<rect x="1568" y="607" width="9" height="17" fill="#000"/>
<rect x="1583" y="614" width="1" height="10" fill="#000"/>
<rect x="1583" y="630" width="1" height="3" fill="#000"/>
<rect x="1579" y="624" width="9" height="6" fill="#000"/>
<rect x="1594" y="608" width="1" height="5" fill="#000"/>
<rect x="1594" y="629" width="1" height="3" fill="#000"/>
<rect x="1590.5" y="613.5" width="8" height="15" fill="#fff" stroke="#000" stroke-width="1"/>
<rect x="1605" y="569" width="1" height="4" fill="#000"/>
<rect x="1605" y="614" width="1" height="4" fill="#000"/>
<rect x="1601.5" y="573.5" width="8" height="40" fill="#fff" stroke="#000" stroke-width="1"/>
<rect x="1616" y="507" width="1" height="4" fill="#000"/>
<rect x="1616" y="574" width="1" height="2" fill="#000"/>
<rect x="1612.5" y="511.5" width="8" height="62" fill="#fff" stroke="#000" stroke-width="1"/>
<rect x="1627" y="357" width="1" height="119" fill="#000"/>
<rect x="1627" y="510" width="1" height="7" fill="#000"/>
<rect x="1623.5" y="476.5" width="8" height="33" fill="#fff" stroke="#000" stroke-width="1"/>
<rect x="1638" y="411" width="1" height="64" fill="#000"/>
<rect x="1638" y="482" width="1" height="19" fill="#000"/>
<rect x="1634" y="475" width="9" height="7" fill="#000"/>
<rect x="1649" y="476" width="1" height="9" fill="#000"/>
<rect x="1649" y="493" width="1" height="20" fill="#000"/>
<rect x="1645" y="485" width="9" height="8" fill="#000"/>
<rect x="1660" y="434" width="1" height="11" fill="#000"/>
<rect x="1660" y="495" width="1" height="4" fill="#000"/>
<rect x="1656.5" y="445.5" width="8" height="49" fill="#fff" stroke="#000" stroke-width="1"/>
<rect x="1672" y="436" width="1" height="7" fill="#000"/>
<rect x="1672" y="466" width="1" height="12" fill="#000"/>
<rect x="1668" y="443" width="9" height="23" fill="#000"/>
<rect x="1683" y="446" width="1" height="1" fill="#000"/>
<rect x="1683" y="464" width="1" height="26" fill="#000"/>
<rect x="1679.5" y="447.5" width="8" height="16" fill="#fff" stroke="#000" stroke-width="1"/>
<rect x="1694" y="416" width="1" height="27" fill="#000"/>
<rect x="1694" y="449" width="1" height="31" fill="#000"/>
<rect x="1690.5" y="443.5" width="8" height="5" fill="#fff" stroke="#000" stroke-width="1"/>
<rect x="1705" y="423" width="1" height="30" fill="#000"/>
<rect x="1716" y="383" width="1" height="44" fill="#000"/>
<rect x="1716" y="445" width="1" height="19" fill="#000"/>
<rect x="1712.5" y="427.5" width="8" height="17" fill="#fff" stroke="#000" stroke-width="1"/>
<rect x="1727" y="227" width="1" height="12" fill="#000"/>
<rect x="1727" y="429" width="1" height="2" fill="#000"/>
<rect x="1723.5" y="239.5" width="8" height="189" fill="#fff" stroke="#000" stroke-width="1"/>
<rect x="1738" y="114" width="1" height="66" fill="#000"/>
<rect x="1738" y="238" width="1" height="48" fill="#000"/>
<rect x="1734.5" y="180.5" width="8" height="57" fill="#fff" stroke="#000" stroke-width="1"/>
<g shape-rendering="geometricPrecision"><circle cx="149.5" cy="857.0" r="7.7" fill="#fff"/><circle cx="149.5" cy="857.0" r="5.55" fill="#fff" stroke="#4284f0" stroke-width="1.7"/><circle cx="305.5" cy="830.8" r="7.7" fill="#fff"/><circle cx="305.5" cy="830.8" r="5.55" fill="#fff" stroke="#4284f0" stroke-width="1.7"/><circle cx="461.5" cy="669.0" r="7.7" fill="#fff"/><circle cx="461.5" cy="669.0" r="5.55" fill="#fff" stroke="#4284f0" stroke-width="1.7"/><circle cx="616.5" cy="712.8" r="7.7" fill="#fff"/><circle cx="616.5" cy="712.8" r="5.55" fill="#fff" stroke="#4284f0" stroke-width="1.7"/><circle cx="772.5" cy="710.0" r="7.7" fill="#fff"/><circle cx="772.5" cy="710.0" r="5.55" fill="#fff" stroke="#4284f0" stroke-width="1.7"/><circle cx="927.5" cy="729.6" r="7.7" fill="#fff"/><circle cx="927.5" cy="729.6" r="5.55" fill="#fff" stroke="#4284f0" stroke-width="1.7"/><circle cx="1083.5" cy="780.8" r="7.7" fill="#fff"/><circle cx="1083.5" cy="780.8" r="5.55" fill="#fff" stroke="#4284f0" stroke-width="1.7"/><circle cx="1238.5" cy="762.8" r="7.7" fill="#fff"/><circle cx="1238.5" cy="762.8" r="5.55" fill="#fff" stroke="#4284f0" stroke-width="1.7"/><circle cx="1394.5" cy="704.6" r="7.7" fill="#fff"/><circle cx="1394.5" cy="704.6" r="5.55" fill="#fff" stroke="#4284f0" stroke-width="1.7"/><circle cx="1549.5" cy="637.8" r="7.7" fill="#fff"/><circle cx="1549.5" cy="637.8" r="5.55" fill="#fff" stroke="#4284f0" stroke-width="1.7"/><circle cx="1705.5" cy="443.0" r="7.7" fill="#fff"/><circle cx="1705.5" cy="443.0" r="5.55" fill="#fff" stroke="#4284f0" stroke-width="1.7"/><circle cx="-5.5" cy="761" r="7.7" fill="#fff"/><circle cx="-5.5" cy="761" r="5.55" fill="#fff" stroke="#4284f0" stroke-width="1.7"/></g>
</g>
</svg>

<!-- price axis labels -->
<div class="abs" style="left:1820.78px;top:47.26px;font-size:16px;line-height:21px;letter-spacing:0.023px;color:#131722;">0.00180000</div>
<div class="abs" style="left:1820.78px;top:112.26px;font-size:16px;line-height:21px;letter-spacing:0.023px;color:#131722;">0.00170000</div>
<div class="abs" style="left:1820.78px;top:178.26px;font-size:16px;line-height:21px;letter-spacing:0.023px;color:#131722;">0.00160000</div>
<div class="abs" style="left:1820.78px;top:243.26px;font-size:16px;line-height:21px;letter-spacing:0.023px;color:#131722;">0.00150000</div>
<div class="abs" style="left:1820.78px;top:309.26px;font-size:16px;line-height:21px;letter-spacing:0.023px;color:#131722;">0.00140000</div>
<div class="abs" style="left:1820.78px;top:375.26px;font-size:16px;line-height:21px;letter-spacing:0.023px;color:#131722;">0.00130000</div>
<div class="abs" style="left:1820.78px;top:440.26px;font-size:16px;line-height:21px;letter-spacing:0.023px;color:#131722;">0.00120000</div>
<div class="abs" style="left:1820.78px;top:506.26px;font-size:16px;line-height:21px;letter-spacing:0.155px;color:#131722;">0.00110000</div>
<div class="abs" style="left:1820.78px;top:571.26px;font-size:16px;line-height:21px;letter-spacing:0.023px;color:#131722;">0.00100000</div>
<div class="abs" style="left:1820.78px;top:637.26px;font-size:16px;line-height:21px;letter-spacing:0.023px;color:#131722;">0.00090000</div>
<div class="abs" style="left:1820.78px;top:703.26px;font-size:16px;line-height:21px;letter-spacing:0.023px;color:#131722;">0.00080000</div>
<div class="abs" style="left:1820.78px;top:768.26px;font-size:16px;line-height:21px;letter-spacing:0.023px;color:#131722;">0.00070000</div>
<div class="abs" style="left:1820.78px;top:834.26px;font-size:16px;line-height:21px;letter-spacing:0.023px;color:#131722;">0.00060000</div>
<div class="abs" style="left:1820.78px;top:900.26px;font-size:16px;line-height:21px;letter-spacing:0.023px;color:#131722;">0.00050000</div>
<div class="abs" style="left:1820.78px;top:965.26px;font-size:16px;line-height:21px;letter-spacing:0.023px;color:#131722;">0.00040000</div>

<!-- last price tag -->
<div class="abs" style="left:1740px;top:169px;width:69px;height:23px;background:#000;border-radius:3px 0 0 3px;"></div>
<div class="abs" style="left:1810px;top:169px;width:103px;height:42px;background:#000;border-radius:0 3px 3px 0;"></div>

<!-- measure label -->
<div class="abs" style="left:1383px;top:69px;width:234px;height:34px;background:#2f8fe5;border-radius:4.5px;box-shadow:0 1px 4px rgba(0,0,0,0.2);"></div>

<!-- BTC dropdown -->
<div class="abs" style="left:1815px;top:6px;width:97px;height:33px;border:1px solid #e0e3eb;border-radius:5px;background:#fff;"></div>
<svg class="abs" style="left:1897.7px;top:18.6px" width="12" height="10" viewBox="0 0 12 10"><path d="M2.5 3.5 L6 6.5 L9.5 3.5" fill="none" stroke="#131722" stroke-width="1.5"/></svg>

<div class="abs" style="left:1745.18px;top:170.96px;font-size:16px;line-height:21px;letter-spacing:-1.395px;color:#fff;">SOLBTC</div>
<div class="abs" style="left:1821.18px;top:170.96px;font-size:16px;line-height:21px;letter-spacing:0.079px;color:#fff;">0.00161254</div>
<div class="abs" style="left:1821.18px;top:189.56px;font-size:16px;line-height:21px;letter-spacing:0.480px;color:#c9c9c9;">04:12:40</div>
<div class="abs" style="left:1394.98px;top:75.76px;font-size:16px;line-height:21px;letter-spacing:-0.080px;color:#fff;font-weight:bold;">0.00097606 (133.42%) 97606</div>
<div class="abs" style="left:1820.28px;top:12.26px;font-size:16px;line-height:21px;letter-spacing:-1.530px;color:#131722;">BTC</div>
<!-- header legend -->
<div class="abs" style="left:420.21px;top:11.54px;font-size:17.5px;line-height:23px;letter-spacing:-0.260px;color:#131722;"><span style="color:#6a6d78">O</span>0.00152533</div>
<div class="abs" style="left:533.31px;top:11.54px;font-size:17.5px;line-height:23px;letter-spacing:-0.163px;color:#131722;"><span style="color:#6a6d78">H</span>0.00171278</div>
<div class="abs" style="left:645.01px;top:11.54px;font-size:17.5px;line-height:23px;letter-spacing:-0.103px;color:#131722;">L0.00144969</div>
<div class="abs" style="left:754.01px;top:11.54px;font-size:17.5px;line-height:23px;letter-spacing:-0.133px;color:#131722;">C0.00161254</div>
<div class="abs" style="left:866.01px;top:11.54px;font-size:17.5px;line-height:23px;letter-spacing:-0.242px;color:#131722;">+0.00009011</div>
<div class="abs" style="left:972.11px;top:11.54px;font-size:17.5px;line-height:23px;letter-spacing:-0.618px;color:#131722;">(+5.92%)</div>
<div class="abs" style="left:6px;top:6px;width:429px;height:31px;border:1px solid #2962ff;border-radius:5px;background:#fff;"></div>
<div class="abs" style="left:42.31px;top:7.58px;font-size:22px;line-height:29px;letter-spacing:-0.446px;color:#131722;">Solana / Bitcoin · 1D · WHITEBIT</div>
<!-- coin icons -->
<svg class="abs" style="left:8px;top:6px" width="34" height="32" viewBox="8 6 34 32">
<circle cx="29.3" cy="17.5" r="7.5" fill="#f7931a"/>
<text x="29.6" y="21.2" font-size="9" font-weight="bold" fill="#fff" text-anchor="middle" font-family="Liberation Sans" transform="rotate(14 29.6 18)">B</text>
<circle cx="20.8" cy="26" r="8.9" fill="#fff"/>
<circle cx="20.8" cy="26" r="7.9" fill="#131722"/>
<rect x="16.8" y="23.1" width="8" height="1.4" fill="#5fd0d8"/><rect x="16.8" y="25.4" width="8" height="1.4" fill="#b9d4f4"/><rect x="16.8" y="27.9" width="8" height="1.2" fill="#7f86c8"/>
</svg>
<!-- flag -->
<svg class="abs" style="left:368px;top:12px" width="22" height="20" viewBox="368 12 22 20"><path d="M370.1 14.1 H386 L381.3 22 L386 29.8 H370.1 Z" fill="#c8c8cc"/></svg>
<!-- dots -->
<svg class="abs" style="left:402px;top:16px" width="28" height="12" viewBox="402 16 28 12"><g fill="none" stroke="#131722" stroke-width="1.3"><circle cx="407.7" cy="21.8" r="2.3"/><circle cx="415.9" cy="21.8" r="2.3"/><circle cx="424.2" cy="21.8" r="2.3"/></g></svg>

<div class="abs" style="left:12.31px;top:44.04px;font-size:17.5px;line-height:23px;letter-spacing:-0.366px;color:#131722;">Vol · SOL</div>
<div class="abs" style="left:93.61px;top:44.04px;font-size:17.5px;line-height:23px;letter-spacing:0.012px;color:#228ba8;">40.558K</div>
<div class="abs" style="left:13px;top:74px;width:37px;height:26px;border:1px solid #e0e3eb;border-radius:4px;background:#fff;"></div>
<svg class="abs" style="left:24px;top:82px" width="16" height="12" viewBox="0 0 16 12"><path d="M3 8 L8.5 3 L14 8" fill="none" stroke="#131722" stroke-width="1.6"/></svg>

<!-- TradingView logo -->
<svg class="abs" style="left:10px;top:936px" width="232" height="38" viewBox="10 936 232 38">
<g stroke="#fff" stroke-width="3.2" stroke-linejoin="round" fill="#fff">
<path d="M16.5 942.5 H32.8 V961.3 H24 V950 H16.5 Z"/>
<circle cx="39.3" cy="946.2" r="3.4"/>
<path d="M47 942.5 H57 L50.3 961.3 H40.3 Z"/>
<text x="68" y="961.3" font-family="Liberation Sans" font-weight="bold" font-size="26.5" textLength="165" lengthAdjust="spacingAndGlyphs">TradingView</text>
</g>
<g fill="#131722" stroke="#131722" stroke-width="0.55" stroke-linejoin="round">
<path d="M16.5 942.5 H32.8 V961.3 H24 V950 H16.5 Z"/>
<circle cx="39.3" cy="946.2" r="3.4"/>
<path d="M47 942.5 H57 L50.3 961.3 H40.3 Z"/>
<text x="68" y="961.3" font-family="Liberation Sans" font-weight="bold" font-size="26.5" textLength="165" lengthAdjust="spacingAndGlyphs">TradingView</text>
</g>
</svg>


<!-- time axis -->
<div class="abs" style="left:40.98px;top:990.76px;font-size:16px;line-height:21px;letter-spacing:-0.757px;color:#131722;">12</div>
<div class="abs" style="left:249.58px;top:990.76px;font-size:16px;line-height:21px;letter-spacing:0.357px;color:#131722;font-weight:bold;">Jul</div>
<div class="abs" style="left:430.43px;top:990.76px;font-size:16px;line-height:21px;letter-spacing:-1.657px;color:#131722;">17</div>
<div class="abs" style="left:590.98px;top:990.76px;font-size:16px;line-height:21px;letter-spacing:-1.035px;color:#131722;font-weight:bold;">Aug</div>
<div class="abs" style="left:742.03px;top:990.76px;font-size:16px;line-height:21px;letter-spacing:-0.857px;color:#131722;">14</div>
<div class="abs" style="left:936.03px;top:990.76px;font-size:16px;line-height:21px;letter-spacing:-0.202px;color:#131722;font-weight:bold;">Sep</div>
<div class="abs" style="left:1053.78px;top:990.76px;font-size:16px;line-height:21px;letter-spacing:-1.169px;color:#131722;">11</div>
<div class="abs" style="left:1163.98px;top:990.76px;font-size:16px;line-height:21px;letter-spacing:-0.757px;color:#131722;">21</div>
<div class="abs" style="left:1269.53px;top:990.76px;font-size:16px;line-height:21px;letter-spacing:0.634px;color:#131722;font-weight:bold;">Oct</div>
<div class="abs" style="left:1441.98px;top:990.76px;font-size:16px;line-height:21px;letter-spacing:-0.757px;color:#131722;">16</div>
<div class="abs" style="left:1613.58px;top:990.76px;font-size:16px;line-height:21px;letter-spacing:-0.197px;color:#131722;font-weight:bold;">Nov</div>
<div class="abs" style="left:1753.28px;top:990.76px;font-size:16px;line-height:21px;letter-spacing:-1.357px;color:#131722;">13</div>
<svg class="abs" style="left:1850px;top:988px" width="30" height="28" viewBox="1850 988 30 28"><g fill="none" stroke="#131722" stroke-width="1.35" stroke-linejoin="round"><path d="M1859.9 993.3 H1870 L1874.8 1001.5 L1870 1009.7 H1859.9 L1855.1 1001.5 Z"/><circle cx="1864.9" cy="1001.5" r="2.7"/></g></svg>

<!-- bottom toolbar -->
<div class="abs" style="left:0;top:1020px;width:1920px;height:1px;background:#e0e3eb;"></div>
<div class="abs" style="left:19.75px;top:1035.32px;font-size:19px;line-height:25px;letter-spacing:-2.387px;color:#131722;">1D</div>
<div class="abs" style="left:57.55px;top:1035.32px;font-size:19px;line-height:25px;letter-spacing:-1.887px;color:#131722;">5D</div>
<div class="abs" style="left:96.55px;top:1035.32px;font-size:19px;line-height:25px;letter-spacing:-2.496px;color:#131722;">1M</div>
<div class="abs" style="left:136.15px;top:1035.32px;font-size:19px;line-height:25px;letter-spacing:-1.996px;color:#131722;">3M</div>
<div class="abs" style="left:176.05px;top:1035.32px;font-size:19px;line-height:25px;letter-spacing:-1.796px;color:#131722;">6M</div>
<div class="abs" style="left:216.34px;top:1035.32px;font-size:19px;line-height:25px;letter-spacing:-1.645px;color:#131722;">YTD</div>
<div class="abs" style="left:267.25px;top:1035.32px;font-size:19px;line-height:25px;letter-spacing:-2.040px;color:#131722;">1Y</div>
<div class="abs" style="left:305.04px;top:1035.32px;font-size:19px;line-height:25px;letter-spacing:-2.040px;color:#131722;">5Y</div>
<div class="abs" style="left:342.14px;top:1035.32px;font-size:19px;line-height:25px;letter-spacing:0.942px;color:#131722;">All</div>
<div class="abs" style="left:379px;top:1032px;width:1px;height:30px;background:#e0e3eb;"></div>
<svg class="abs" style="left:394px;top:1028px" width="36" height="36" viewBox="394 1028 36 36"><g fill="none" stroke="#1e222d" stroke-width="1.35" stroke-linecap="round" stroke-linejoin="round"><path d="M400.5 1045.2 V1040 Q400.5 1036.9 403.6 1036.9 H421 Q424.1 1036.9 424.1 1040 V1054.2 Q424.1 1057.3 421 1057.3 H412.6"/><path d="M400.5 1042.5 H424.1 M407.4 1033.6 V1038.5 M417 1033.6 V1038.5"/><path d="M398.6 1053.4 H409 M404.5 1048.7 L409.2 1053.4 L404.5 1058.1"/></g></svg>
<div class="abs" style="left:1760.85px;top:1035.32px;font-size:19px;line-height:25px;letter-spacing:-0.107px;color:#131722;">22:47:19 (UTC+3)</div>
<div class="abs" style="left:0;top:1074px;width:1920px;height:6px;background:#e0e3eb;"></div>
</body></html>
